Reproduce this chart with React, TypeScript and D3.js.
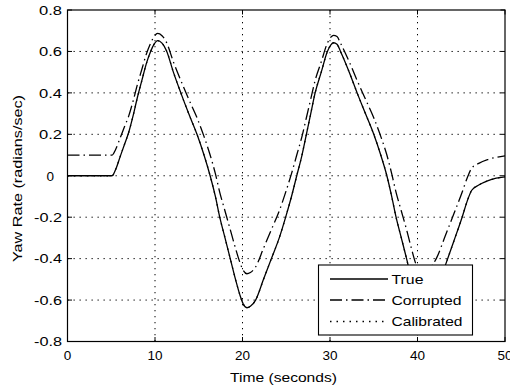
import React from "react";
import * as d3 from "d3";

const times = [0, 5.1, 5.5, 6.0, 6.5, 7.0, 7.5, 8.0, 8.5, 9.0, 9.5, 9.9, 10.3, 10.8, 11.3, 12.1, 12.95, 13.85, 14.8, 15.6, 16.3, 16.9, 17.4, 18.0, 18.6, 19.2, 19.7, 20.1, 20.5, 20.9, 21.5, 22.4, 23.3, 24.2, 25.0, 25.6, 26.2, 26.8, 27.3, 27.8, 28.3, 29.0, 29.7, 30.1, 30.4, 30.8, 31.2, 32.2, 33.1, 34.05, 35.0, 35.8, 36.5, 37.05, 37.55, 38.15, 38.75, 39.3, 39.75, 40.15, 40.6, 41.2, 42.2, 43.2, 44.2, 45.1, 45.7, 46.2, 47.0, 48.0, 49.0, 50];

const trueRate = [0, 0, 0.03, 0.09, 0.15, 0.21, 0.29, 0.38, 0.46, 0.54, 0.6, 0.635, 0.652, 0.64, 0.605, 0.5, 0.4, 0.3, 0.2, 0.1, 0, -0.1, -0.2, -0.3, -0.4, -0.5, -0.575, -0.62, -0.637, -0.63, -0.6, -0.5, -0.4, -0.3, -0.19, -0.1, 0, 0.1, 0.2, 0.3, 0.4, 0.5, 0.6, 0.632, 0.642, 0.635, 0.6, 0.5, 0.4, 0.3, 0.2, 0.1, 0, -0.1, -0.2, -0.3, -0.4, -0.5, -0.575, -0.62, -0.638, -0.62, -0.55, -0.43, -0.31, -0.2, -0.12, -0.07, -0.045, -0.025, -0.012, -0.005];

const corruptedRate = [0.1, 0.1, 0.127, 0.181, 0.235, 0.289, 0.361, 0.442, 0.514, 0.586, 0.64, 0.672, 0.687, 0.676, 0.645, 0.55, 0.46, 0.37, 0.28, 0.19, 0.1, 0.01, -0.08, -0.17, -0.26, -0.35, -0.418, -0.458, -0.473, -0.467, -0.44, -0.35, -0.26, -0.17, -0.071, 0.01, 0.1, 0.19, 0.28, 0.37, 0.46, 0.55, 0.64, 0.669, 0.678, 0.672, 0.64, 0.55, 0.46, 0.37, 0.28, 0.19, 0.1, 0.01, -0.08, -0.17, -0.26, -0.35, -0.418, -0.458, -0.474, -0.458, -0.395, -0.287, -0.179, -0.08, -0.008, 0.037, 0.06, 0.078, 0.089, 0.096];

const calibratedRate = [0, 0, 0.03, 0.09, 0.15, 0.21, 0.29, 0.38, 0.46, 0.54, 0.6, 0.635, 0.652, 0.64, 0.605, 0.5, 0.4, 0.3, 0.2, 0.1, 0, -0.1, -0.2, -0.3, -0.4, -0.5, -0.575, -0.62, -0.637, -0.63, -0.6, -0.5, -0.4, -0.3, -0.19, -0.1, 0, 0.1, 0.2, 0.3, 0.4, 0.5, 0.6, 0.632, 0.642, 0.635, 0.6, 0.5, 0.4, 0.3, 0.2, 0.1, 0, -0.1, -0.2, -0.3, -0.4, -0.5, -0.575, -0.62, -0.638, -0.62, -0.55, -0.43, -0.31, -0.2, -0.12, -0.07, -0.045, -0.025, -0.012, -0.005];

const xTicks = [0, 10, 20, 30, 40, 50];
const yTicks = [-0.8, -0.6, -0.4, -0.2, 0, 0.2, 0.4, 0.6, 0.8];
const yTickLabels = ["-0.8", "-0.6", "-0.4", "-0.2", "0", "0.2", "0.4", "0.6", "0.8"];
const seriesNames = ["True", "Corrupted", "Calibrated"];

const W = 510, H = 385;
const L = 67.5, R = 505, T = 10, B = 341.5;
const FONT = "'Liberation Sans', Arial, Helvetica, sans-serif";
const dashes = ["none", "12,4,1.5,4", "1.5,5"];

export default function App() {
  const x = d3.scaleLinear().domain([0, 50]).range([L, R]);
  const y = d3.scaleLinear().domain([-0.8, 0.8]).range([B, T]);
  const series = [trueRate, corruptedRate, calibratedRate];
  const line = (vals: number[]) =>
    d3.line<number>().x((_, i) => x(times[i])).y((v) => y(v)).curve(d3.curveMonotoneX)(vals) || "";

  const legX = 318.5, legY = 265, legW = 154, legH = 70;
  const rowY = [279, 300, 321.5];
  const legTextLen = [32, 70, 71];

  return (
    <svg width={W} height={H} style={{ position: "absolute", left: 0, top: 0, background: "#fff" }}>
      <rect x={0} y={0} width={W} height={H} fill="#fff" />
      {xTicks.slice(1, -1).map((t) => (
        <line key={"gx" + t} x1={x(t)} x2={x(t)} y1={T} y2={B} stroke="#000" strokeWidth={1} strokeDasharray="1.3,4.7" />
      ))}
      {yTicks.slice(1, -1).map((t) => (
        <line key={"gy" + t} x1={L} x2={R} y1={y(t)} y2={y(t)} stroke="#000" strokeWidth={1} strokeDasharray="1.3,4.7" />
      ))}
      <defs>
        <clipPath id="clip">
          <rect x={L} y={T} width={R - L} height={B - T} />
        </clipPath>
      </defs>
      <g clipPath="url(#clip)">
        {series.map((s, i) => (
          <path key={i} d={line(s)} fill="none" stroke="#000" strokeWidth={1.3} strokeDasharray={dashes[i]} />
        ))}
      </g>
      {xTicks.map((t) => (
        <g key={"tx" + t}>
          <line x1={x(t)} x2={x(t)} y1={B} y2={B - 4.5} stroke="#000" />
          <line x1={x(t)} x2={x(t)} y1={T} y2={T + 4.5} stroke="#000" />
          <text x={x(t)} y={359.5} textAnchor="middle" fontFamily={FONT} fontSize={13.5} fill="#000">{t}</text>
        </g>
      ))}
      {yTicks.map((t, i) => (
        <g key={"ty" + t}>
          <line x1={L} x2={L + 4.5} y1={y(t)} y2={y(t)} stroke="#000" />
          <line x1={R} x2={R - 4.5} y1={y(t)} y2={y(t)} stroke="#000" />
          <text x={yTickLabels[i] === "0" ? 54 : 62} y={y(t) + 4.8} textAnchor="end" fontFamily={FONT} fontSize={13.5} fill="#000"
            textLength={yTickLabels[i] === "0" ? undefined : yTickLabels[i].length === 3 ? 23 : 28} lengthAdjust="spacingAndGlyphs">{yTickLabels[i]}</text>
        </g>
      ))}
      <rect x={L} y={T} width={R - L} height={B - T} fill="none" stroke="#000" strokeWidth={1.2} />
      <text x={283.5} y={381.5} textAnchor="middle" fontFamily={FONT} fontSize={13.5} textLength={107} lengthAdjust="spacingAndGlyphs">Time (seconds)</text>
      <text transform={`translate(22,178.5) rotate(-90)`} textAnchor="middle" fontFamily={FONT} fontSize={13.5} textLength={167} lengthAdjust="spacingAndGlyphs">Yaw Rate (radians/sec)</text>
      <rect x={legX} y={legY} width={legW} height={legH} fill="#fff" stroke="#000" strokeWidth={1.1} />
      {seriesNames.map((n, i) => (
        <g key={n}>
          <line x1={330} x2={388} y1={rowY[i]} y2={rowY[i]} stroke="#000" strokeWidth={1.3} strokeDasharray={dashes[i]} />
          <text x={391.5} y={rowY[i] + 4.8} fontFamily={FONT} fontSize={13.5} textLength={legTextLen[i]} lengthAdjust="spacingAndGlyphs">{n}</text>
        </g>
      ))}
    </svg>
  );
}
